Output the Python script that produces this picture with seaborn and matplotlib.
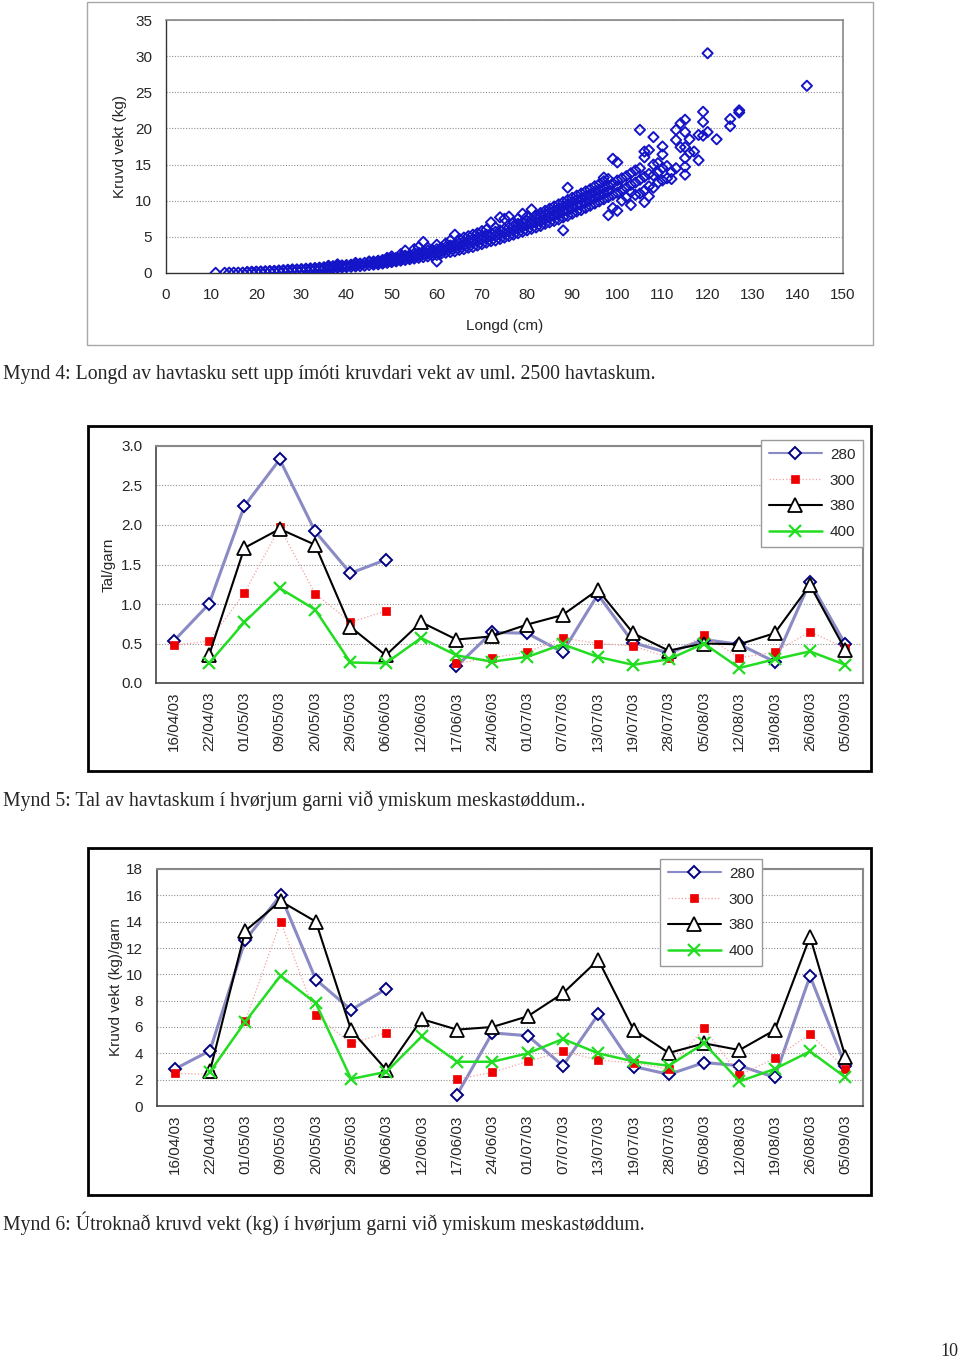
import numpy as np
import pandas as pd
import matplotlib
matplotlib.use("Agg")
import matplotlib.pyplot as plt
from matplotlib.lines import Line2D
from matplotlib.patches import Rectangle
from matplotlib.ticker import MultipleLocator, FixedLocator
import seaborn as sns

# ---------------- data: Mynd 4 (length vs weight, representative points read from the cloud)
scatter_rows = {
    11: [0.02], 13: [0.03], 14: [0.04], 15: [0.05], 16: [0.05], 17: [0.06],
    18: [0.08, 0.15], 19: [0.10, 0.18], 20: [0.12, 0.20], 21: [0.15, 0.22],
    22: [0.17, 0.25], 23: [0.20, 0.28], 24: [0.22, 0.30], 25: [0.25, 0.35],
    26: [0.28, 0.40], 27: [0.30, 0.45], 28: [0.35, 0.50], 29: [0.38, 0.50],
    30: [0.40, 0.55], 31: [0.42, 0.60], 32: [0.45, 0.65], 33: [0.50, 0.70],
    34: [0.52, 0.75], 35: [0.55, 0.80], 36: [0.60, 0.90, 1.00], 37: [0.65, 0.95],
    38: [0.70, 1.00, 1.20], 39: [0.75, 1.05], 40: [0.80, 1.10], 41: [0.85, 1.15],
    42: [0.90, 1.20, 1.40], 43: [0.95, 1.30], 44: [1.00, 1.40], 45: [1.10, 1.50, 1.60],
    46: [1.15, 1.40, 1.60], 47: [1.20, 1.45, 1.70], 48: [1.30, 1.55, 1.80],
    49: [1.40, 1.65, 1.90, 2.10], 50: [1.50, 1.75, 2.00, 2.30], 51: [1.60, 1.85, 2.10],
    52: [1.70, 1.95, 2.20, 2.60], 53: [1.80, 2.10, 2.40, 3.10], 54: [1.90, 2.20, 2.50],
    55: [2.00, 2.35, 2.70, 3.30], 56: [2.10, 2.45, 2.80, 3.60], 57: [2.20, 2.60, 3.00, 4.30],
    58: [2.30, 2.70, 3.10, 3.50], 59: [2.40, 2.80, 3.20], 60: [1.60, 2.50, 2.90, 3.30, 3.90],
    61: [2.70, 3.10, 3.50], 62: [2.80, 3.20, 3.60, 4.10], 63: [2.90, 3.40, 3.80, 4.50],
    64: [3.00, 3.50, 4.00, 5.30], 65: [3.20, 3.70, 4.10, 4.70], 66: [3.30, 3.80, 4.30, 4.90],
    67: [3.50, 4.00, 4.50, 5.10], 68: [3.60, 4.20, 4.70, 5.30], 69: [3.80, 4.40, 4.90, 5.50],
    70: [4.00, 4.60, 5.10, 5.80], 71: [4.20, 4.80, 5.30, 6.00], 72: [4.40, 5.00, 5.50, 7.00],
    73: [4.50, 5.10, 5.70, 6.30], 74: [4.70, 5.30, 5.90, 7.70], 75: [4.90, 5.50, 6.10, 7.50],
    76: [5.10, 5.70, 6.30, 7.80], 77: [5.30, 5.90, 6.50, 7.00], 78: [5.50, 6.10, 6.80, 7.50],
    79: [5.70, 6.40, 7.00, 8.20], 80: [5.90, 6.60, 7.20, 7.80], 81: [6.10, 6.80, 7.40, 8.80],
    82: [6.30, 7.00, 7.60, 8.00], 83: [6.50, 7.20, 7.90, 8.30], 84: [6.80, 7.40, 8.10, 8.60],
    85: [7.00, 7.70, 8.40, 8.90], 86: [7.20, 7.90, 8.60, 9.20], 87: [7.40, 8.20, 8.90, 9.50],
    88: [5.90, 7.70, 8.50, 9.20, 9.80], 89: [7.90, 8.70, 9.50, 10.10, 11.80],
    90: [8.20, 9.00, 9.80, 10.40], 91: [8.50, 9.30, 10.10, 10.70], 92: [8.70, 9.50, 10.30, 11.00],
    93: [9.00, 9.80, 10.60, 11.30], 94: [9.30, 10.10, 10.90, 11.60], 95: [9.60, 10.40, 11.20, 12.00],
    96: [9.90, 10.70, 11.50, 12.30], 97: [10.20, 11.00, 11.80, 12.70, 13.20],
    98: [8.00, 10.50, 11.30, 12.10, 13.00], 99: [9.00, 10.80, 12.40, 15.80],
    100: [8.60, 11.10, 12.00, 12.80, 15.30], 101: [10.00, 11.50, 13.10], 102: [10.50, 11.80, 13.40],
    103: [9.40, 11.20, 12.20, 13.80], 104: [10.80, 12.50, 14.20], 105: [11.00, 12.90, 14.50, 19.80],
    106: [9.80, 11.40, 13.30, 16.00, 16.80], 107: [10.60, 12.00, 13.70, 17.00],
    108: [11.80, 13.50, 15.00, 18.80], 109: [12.50, 13.90, 15.20], 110: [12.80, 14.50, 16.40, 17.50],
    111: [13.10, 14.80], 112: [13.00, 14.00], 113: [14.50, 18.40, 19.80], 114: [17.40, 20.70],
    115: [13.60, 14.70, 15.90, 17.40, 19.50, 21.20], 116: [16.60, 18.50], 117: [16.80],
    118: [15.60, 19.10], 119: [19.00, 20.90, 22.30], 120: [19.50, 30.40], 122: [18.50],
    125: [20.30, 21.30], 127: [22.20, 22.50], 142: [25.90],
}
longd = [L for L, ws in scatter_rows.items() for _ in ws]
vekt = [w for ws in scatter_rows.values() for w in ws]

# ---------------- data: Mynd 5 / Mynd 6
dates = ["16/04/03", "22/04/03", "01/05/03", "09/05/03", "20/05/03", "29/05/03",
         "06/06/03", "12/06/03", "17/06/03", "24/06/03", "01/07/03", "07/07/03",
         "13/07/03", "19/07/03", "28/07/03", "05/08/03", "12/08/03", "19/08/03",
         "26/08/03", "05/09/03"]
nan = np.nan
tal_280 = [0.53, 1.00, 2.24, 2.83, 1.92, 1.39, 1.56, nan, 0.21, 0.64,
           0.63, 0.39, 1.12, 0.51, 0.38, 0.55, 0.49, 0.27, 1.28, 0.49]
tal_300 = [0.48, 0.53, 1.14, 1.97, 1.13, 0.77, 0.91, nan, 0.25, 0.32,
           0.39, 0.57, 0.50, 0.47, 0.32, 0.61, 0.32, 0.39, 0.65, 0.44]
tal_380 = [nan, 0.35, 1.71, 1.95, 1.75, 0.71, 0.35, 0.77, 0.55, 0.59,
           0.74, 0.86, 1.18, 0.63, 0.41, 0.50, 0.49, 0.63, 1.24, 0.42]
tal_400 = [nan, 0.25, 0.77, 1.20, 0.93, 0.26, 0.25, 0.57, 0.35, 0.27,
           0.33, 0.49, 0.33, 0.23, 0.30, 0.50, 0.19, 0.30, 0.40, 0.23]

kg_280 = [2.8, 4.2, 12.6, 16.0, 9.6, 7.3, 8.9, nan, 0.86, 5.55,
          5.34, 3.06, 6.96, 3.0, 2.4, 3.3, 3.06, 2.18, 9.87, 3.06]
kg_300 = [2.47, 2.42, 6.44, 14.0, 6.9, 4.75, 5.58, nan, 2.05, 2.55,
          3.39, 4.15, 3.49, 3.27, 2.81, 5.9, 2.33, 3.62, 5.47, 2.84]
kg_380 = [nan, 2.65, 13.3, 15.56, 14.0, 5.76, 2.73, 6.6, 5.8, 6.0,
          6.81, 8.56, 11.1, 5.8, 4.03, 4.76, 4.25, 5.77, 12.86, 3.75]
kg_400 = [nan, 2.6, 6.4, 9.9, 7.8, 2.05, 2.6, 5.28, 3.36, 3.36,
          4.0, 5.09, 4.0, 3.39, 3.06, 4.76, 1.87, 2.81, 4.15, 2.18]

series_names = ["280", "300", "380", "400"]

# ---------------- style
sns.set_style("white")
plt.rcParams["font.family"] = ["Liberation Sans", "DejaVu Sans"]
SERIF = ["Liberation Serif", "DejaVu Serif"]

styles = {
    "280": dict(color="#8a8ac4", lw=2.2, ls="-", marker="D", ms=6.5, mfc="white",
                mec="#000080", mew=1.4),
    "300": dict(color="#f4a0a0", lw=0.9, ls=":", marker="s", ms=6, mfc="#ee0000",
                mec="#ee0000", mew=0.5),
    "380": dict(color="black", lw=1.5, ls="-", marker="^", ms=9.5, mfc="white",
                mec="black", mew=1.3),
    "400": dict(color="#22dd22", lw=1.8, ls="-", marker="x", ms=8, mfc="#22dd22",
                mec="#22dd22", mew=1.6),
}

fig = plt.figure(figsize=(9.6, 13.6), dpi=100)
W, H = 960.0, 1360.0


def fig_rect(x0, y0, x1, y1):
    return [x0 / W, 1 - y1 / H, (x1 - x0) / W, (y1 - y0) / H]


def border(x0, y0, x1, y1, color, lw):
    r = Rectangle((x0 / W, 1 - y1 / H), (x1 - x0) / W, (y1 - y0) / H,
                  transform=fig.transFigure, fill=False, edgecolor=color, lw=lw)
    fig.patches.append(r)


FS = 11

# ---------------- Panel 1: scatter
border(87, 2, 873, 345, "#a8a8a8", 1.0)
ax1 = fig.add_axes(fig_rect(166, 20, 843, 273))
sns.scatterplot(x=longd, y=vekt, ax=ax1, marker="D", s=27, facecolors="none",
                edgecolors="#1414c8", linewidths=1.4, legend=False, zorder=3)
ax1.set_xlim(0, 150)
ax1.set_ylim(0, 35)
ax1.set_xticks(range(0, 151, 10))
ax1.set_yticks(range(0, 36, 5))
ax1.xaxis.set_minor_locator(MultipleLocator(2))
ax1.yaxis.set_minor_locator(MultipleLocator(1))
ax1.tick_params(axis="both", which="major", labelsize=FS, length=4, direction="inout",
                color="#555555")
ax1.tick_params(axis="x", which="major", pad=9)
ax1.tick_params(axis="y", which="major", pad=8)
ax1.tick_params(axis="both", which="minor", length=3, direction="in", color="#555555")
ax1.grid(axis="y", which="major", ls=(0, (1, 1.5)), color="#909090", lw=0.8)
for s in ["top", "right"]:
    ax1.spines[s].set_color("#888888")
    ax1.spines[s].set_linewidth(1.2)
for s in ["left", "bottom"]:
    ax1.spines[s].set_color("#333333")
    ax1.spines[s].set_linewidth(1.0)
ax1.set_xlabel("Longd (cm)", fontsize=FS, labelpad=12)
ax1.set_ylabel("Kruvd vekt (kg)", fontsize=FS, labelpad=6)

fig.text(3 / W, 1 - 374 / H, "Mynd 4: Longd av havtasku sett upp ímóti kruvdari vekt av uml. 2500 havtaskum.",
         family=SERIF, fontsize=14.2, va="center", ha="left")


def line_panel(ax, values, ylim, ystep, ylabel, fmt, leg_anchor, ylabelpad):
    pos = np.arange(len(dates))
    for name, vals in zip(series_names, values):
        vals = np.asarray(vals, dtype=float)
        ok = ~np.isnan(vals)
        seg = np.cumsum(~ok)  # break line at missing values
        df = pd.DataFrame({"pos": pos[ok], "val": vals[ok], "seg": seg[ok]})
        st = styles[name]
        sns.lineplot(data=df, x="pos", y="val", units="seg", estimator=None, ax=ax,
                     color=st["color"], lw=st["lw"], ls=st["ls"], marker=st["marker"],
                     markersize=st["ms"], markerfacecolor=st["mfc"],
                     markeredgecolor=st["mec"], markeredgewidth=st["mew"],
                     legend=False, zorder=3)
    ax.set_xlim(-0.5, len(dates) - 0.5)
    ax.set_ylim(*ylim)
    ax.set_yticks(np.arange(ylim[0], ylim[1] + ystep / 2, ystep))
    ax.yaxis.set_major_formatter(plt.FuncFormatter(lambda v, p: fmt.format(v)))
    ax.set_xticks(pos)
    ax.set_xticklabels(dates, rotation=90, fontsize=FS)
    ax.xaxis.set_minor_locator(FixedLocator(np.arange(-0.5, len(dates), 1.0)))
    ax.tick_params(axis="x", which="major", length=0, pad=6)
    ax.tick_params(axis="x", which="minor", length=5, direction="out", color="#555555", width=1)
    ax.tick_params(axis="y", which="major", length=0, pad=10, labelsize=FS)
    ax.grid(axis="y", ls=(0, (1, 1.5)), color="#909090", lw=0.8)
    for s in ["top", "right"]:
        ax.spines[s].set_color("#888888")
        ax.spines[s].set_linewidth(1.5)
    for s in ["left", "bottom"]:
        ax.spines[s].set_color("#444444")
        ax.spines[s].set_linewidth(1.2)
    ax.set_xlabel("")
    ax.set_ylabel(ylabel, fontsize=FS, labelpad=ylabelpad)
    handles = []
    for name in series_names:
        st = styles[name]
        handles.append(Line2D([], [], color=st["color"], lw=st["lw"] if name != "280" else 1.5,
                              ls=st["ls"], marker=st["marker"], markersize=st["ms"],
                              markerfacecolor=st["mfc"], markeredgecolor=st["mec"],
                              markeredgewidth=st["mew"]))
    leg = ax.legend(handles, series_names, loc="upper right", bbox_to_anchor=leg_anchor,
                    borderaxespad=0, fontsize=FS, frameon=True, fancybox=False,
                    edgecolor="#999999", framealpha=1, handlelength=3.5,
                    labelspacing=0.78, borderpad=0.5, handletextpad=0.5)
    leg.get_frame().set_linewidth(1.0)
    leg.set_zorder(5)


# ---------------- Panel 2
border(88, 426, 871, 771, "black", 2.0)
ax2 = fig.add_axes(fig_rect(156, 446, 863, 683))
line_panel(ax2, [tal_280, tal_300, tal_380, tal_400], (0, 3.0), 0.5, "Tal/garn", "{:.1f}",
           (1.0, 1.0 + 6 / 237), 4)
fig.text(3 / W, 1 - 801 / H, "Mynd 5: Tal av havtaskum í hvørjum garni við ymiskum meskastøddum..",
         family=SERIF, fontsize=14.2, va="center", ha="left")

# ---------------- Panel 3
border(88, 848, 871, 1195, "black", 2.0)
ax3 = fig.add_axes(fig_rect(157, 869, 863, 1106))
line_panel(ax3, [kg_280, kg_300, kg_380, kg_400], (0, 18), 2, "Kruvd vekt (kg)/garn", "{:.0f}",
           ((762 - 157) / 706, 1.0 + 10 / 237), 2)
fig.text(3 / W, 1 - 1223 / H, "Mynd 6: Útroknað kruvd vekt (kg) í hvørjum garni við ymiskum meskastøddum.",
         family=SERIF, fontsize=14.2, va="center", ha="left")

fig.text(958 / W, 1 - 1352 / H, "10", family=SERIF, fontsize=13, va="center", ha="right")

fig.savefig("out.png", dpi=100)
